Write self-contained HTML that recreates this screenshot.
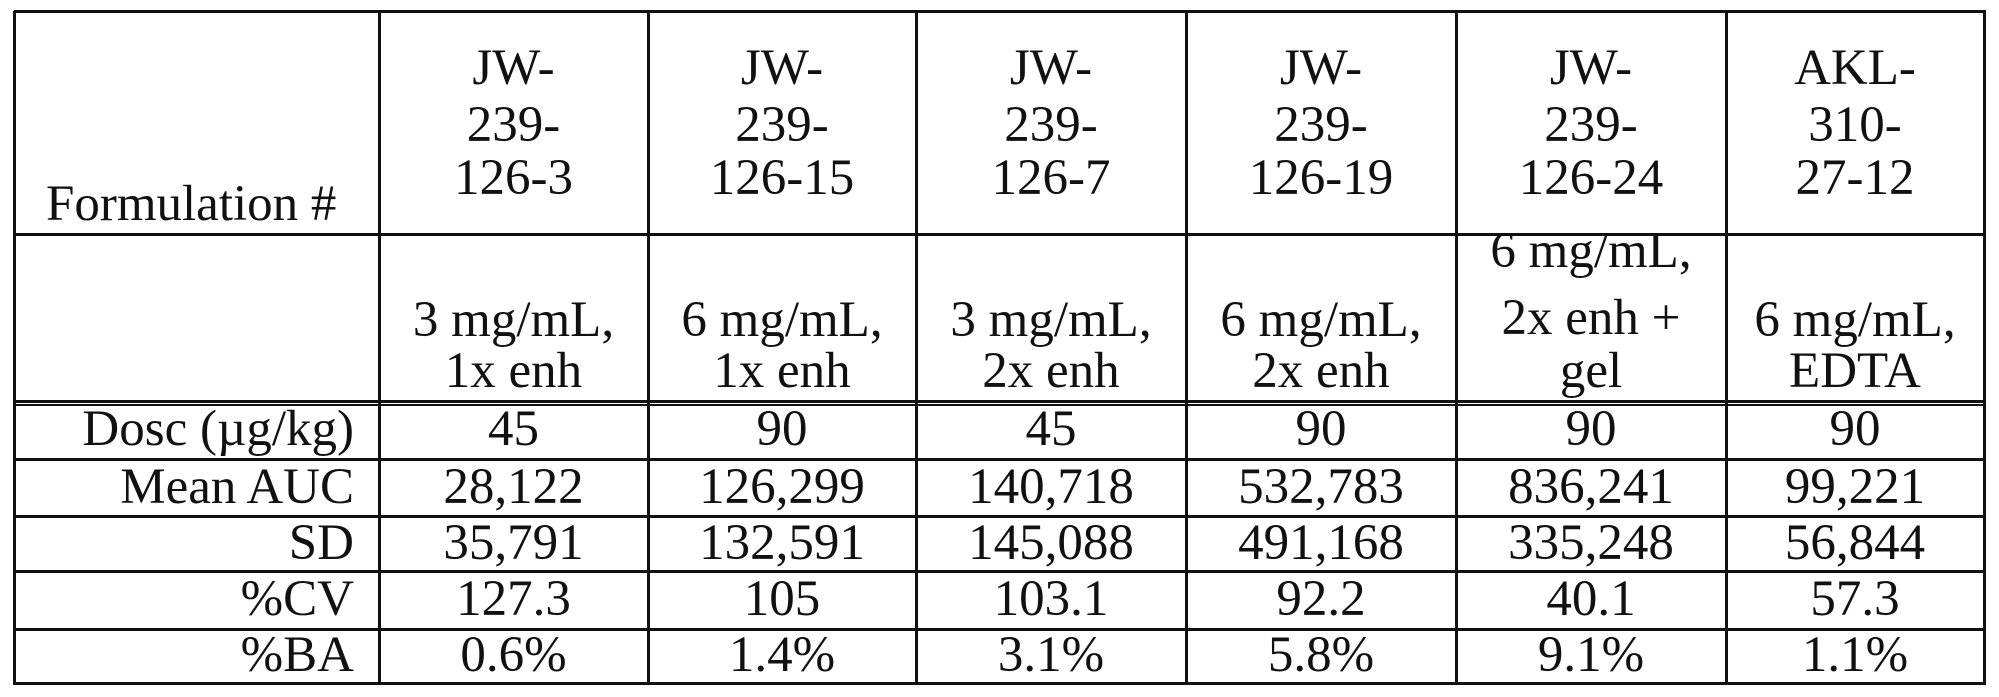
<!DOCTYPE html>
<html><head><meta charset="utf-8"><style>
body{margin:0;width:1999px;height:697px;background:#fff;position:relative;overflow:hidden;font-family:"Liberation Serif",serif;font-size:51px;color:#111}
.h{position:absolute;background:#111;height:3px}
.v{position:absolute;background:#111;width:3px;top:11px;height:674px}
.t{position:absolute;line-height:56px;white-space:nowrap;text-align:center}
.r{text-align:right}
</style></head><body>
<div class="h" style="left:14px;width:1972px;top:10px"></div>
<div class="h" style="left:14px;width:1972px;top:233px"></div>
<div class="h" style="left:14px;width:1972px;top:400px"></div>
<div class="h" style="left:14px;width:1972px;top:404px;height:2px"></div>
<div class="h" style="left:14px;width:1972px;top:458px"></div>
<div class="h" style="left:14px;width:1972px;top:515px"></div>
<div class="h" style="left:14px;width:1972px;top:570px"></div>
<div class="h" style="left:14px;width:1972px;top:628px"></div>
<div class="h" style="left:14px;width:1972px;top:682px"></div>
<div class="v" style="left:13px"></div>
<div class="v" style="left:378px"></div>
<div class="v" style="left:647px"></div>
<div class="v" style="left:915px"></div>
<div class="v" style="left:1185px"></div>
<div class="v" style="left:1455px"></div>
<div class="v" style="left:1725px"></div>
<div class="v" style="left:1983px"></div>

<div class="t" style="left:46px;top:176px">Formulation #</div>

<div id="cols"></div>
<script>
var L=[380,649,917,1187,1457,1727],R=[647,915,1185,1455,1725,1983];
var hdr=[["JW-","239-","126-3"],["JW-","239-","126-15"],["JW-","239-","126-7"],["JW-","239-","126-19"],["JW-","239-","126-24"],["AKL-","310-","27-12"]];
var sub=[["3 mg/mL,","1x enh"],["6 mg/mL,","1x enh"],["3 mg/mL,","2x enh"],["6 mg/mL,","2x enh"],["6 mg/mL,","2x enh +","gel"],["6 mg/mL,","EDTA"]];
var data=[["45","28,122","35,791","127.3","0.6%"],["90","126,299","132,591","105","1.4%"],["45","140,718","145,088","103.1","3.1%"],["90","532,783","491,168","92.2","5.8%"],["90","836,241","335,248","40.1","9.1%"],["90","99,221","56,844","57.3","1.1%"]];
var lab=["Dosc (µg/kg)","Mean AUC","SD","%CV","%BA"];
var db=[446,504,560,616,672];
var h="";
function put(x,w,base,txt,cls){h+='<div class="t'+(cls||'')+'" style="left:'+x+'px;width:'+w+'px;top:'+(base-45.5)+'px">'+txt+'</div>';}
for(var i=0;i<6;i++){var x=L[i],w=R[i]-L[i];
 [85,142,195].forEach(function(b,j){put(x,w,b,hdr[i][j]);});
 var s=sub[i],bs=s.length==3?[268,335,388]:[337,388];
 s.forEach(function(t,j){put(x,w,bs[j],t);});
 data[i].forEach(function(t,j){put(x,w,db[j],t);});
}
lab.forEach(function(t,j){put(16,338,db[j],t," r");});
document.getElementById("cols").innerHTML=h;
</script>
</body></html>
